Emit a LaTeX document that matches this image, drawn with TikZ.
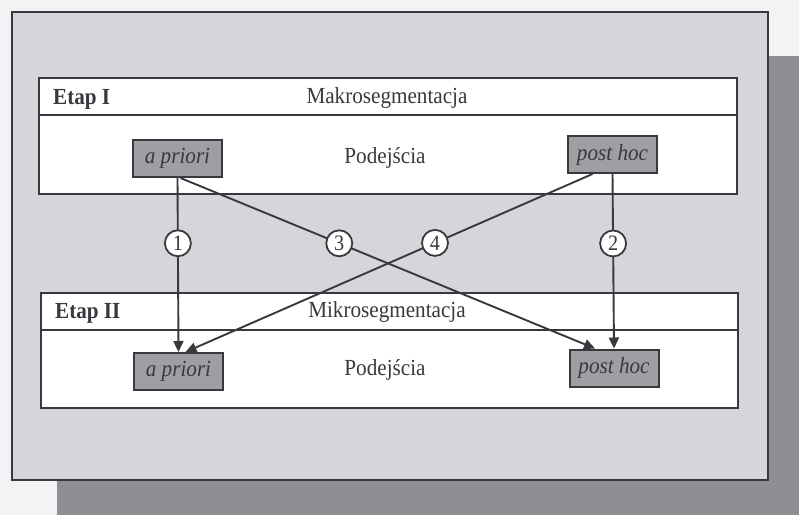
\documentclass[tikz,border=0pt]{standalone}
\usepackage{fontspec}
\setmainfont{Liberation Serif}[FakeStretch=0.92]
\usetikzlibrary{arrows.meta,calc}
\definecolor{pagebg}{HTML}{F3F3F5}
\definecolor{framebg}{HTML}{D6D6DA}
\definecolor{shadowc}{HTML}{8E8E93}
\definecolor{boxbg}{HTML}{9E9EA3}
\definecolor{inkc}{HTML}{3A383E}
\tikzset{
  stagebox/.style={draw=inkc, line width=2.2pt, fill=white},
  appbox/.style={draw=inkc, line width=2pt, fill=boxbg, minimum width=89pt, minimum height=37pt, inner sep=0pt, font=\fontsize{23}{26}\selectfont\itshape, text=inkc},
  lbl/.style={font=\fontsize{23}{26}\selectfont, text=inkc, inner sep=0pt},
  stagelbl/.style={font=\fontsize{23}{26}\selectfont\bfseries, text=inkc, inner sep=0pt, anchor=west},
  conn/.style={draw=inkc, line width=1.9pt, -{Triangle[length=11pt,width=10pt]}},
  num/.style={circle, draw=inkc, line width=1.8pt, fill=white, minimum size=26pt, inner sep=0pt, font=\fontsize{22}{24}\selectfont, text=inkc}
}
\begin{document}
\begin{tikzpicture}[x=1pt,y=-1pt]
\useasboundingbox (0,0) rectangle (799,515);
\fill[pagebg] (0,0) rectangle (799,515);
% shadow
\fill[shadowc] (57,56) rectangle (799,515);
% frame
\draw[draw=inkc, line width=2.2pt, fill=framebg] (12,12) rectangle (768,480);
% stage I
\draw[stagebox] (39,78) rectangle (737,194);
\draw[draw=inkc, line width=2.2pt] (39,115) -- (737,115);
% stage II
\draw[stagebox] (41,293) rectangle (738,408);
\draw[draw=inkc, line width=2.2pt] (41,330) -- (738,330);
% labels
\node[stagelbl] (e1) at (53,99) {Etap I};
\node[lbl] (m1) at (387,98) {Makrosegmentacja};
\node[lbl] (p1) at (385,158) {Podejścia};
\node[stagelbl] (e2) at (55,313) {Etap II};
\node[lbl] (m2) at (387,312) {Mikrosegmentacja};
\node[lbl] (p2) at (385,370) {Podejścia};
% approach boxes
\node[appbox] (ap1) at (177.5,158.5) {a priori};
\node[appbox] (ph1) at (612.5,154.5) {post hoc};
\node[appbox] (ap2) at (178.5,371.5) {a priori};
\node[appbox] (ph2) at (614,368) {post hoc};
% connectors
\draw[conn] (ap1.south) -- node[num,pos=0.375] (c1) {1} (ap2.north);
\draw[conn] (ph1.south) -- node[num,pos=0.398] (c2) {2} (ph2.north);
\draw[conn] ($(ap1.south)+(3,0)$) -- node[num,pos=0.383] (c3) {3} ($(ph2.north)+(-19,0)$);
\draw[conn] ($(ph1.south)+(-20,0)$) -- node[num,pos=0.387] (c4) {4} ($(ap2.north)+(7,0)$);
\end{tikzpicture}
\end{document}
